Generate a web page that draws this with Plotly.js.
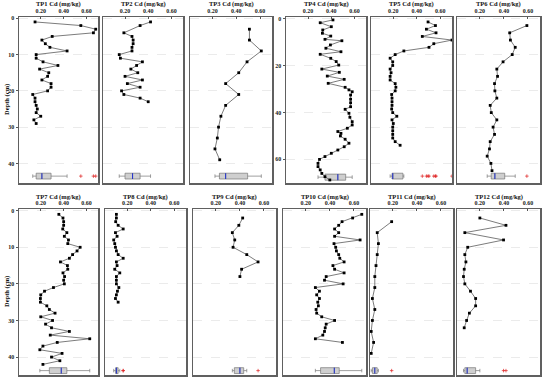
<!DOCTYPE html>
<html><head><meta charset="utf-8">
<script src="https://cdn.plot.ly/plotly-3.0.1.min.js"></script>
<style>html,body{margin:0;padding:0;background:#fff}#chart{width:550px;height:380px}</style>
</head><body><div id="chart"></div>
<script>
// ---------- data (depth in cm, Cd in mg/kg) ----------
const panelNames = ['TP1','TP2','TP3','TP4','TP5','TP6','TP7','TP8','TP9','TP10','TP11','TP12'];

const tp1Depth = [1,2,3,4,5,6,7,8,9,10,11,12,13,14,15,16,17,18,19,20,21,22,23,24,25,26,27,28,29];
const tp1Cd = [0.15,0.55,0.68,0.66,0.30,0.21,0.24,0.28,0.43,0.16,0.16,0.22,0.35,0.19,0.27,0.26,0.21,0.29,0.29,0.26,0.13,0.15,0.15,0.16,0.17,0.16,0.20,0.14,0.16];

const tp2Depth = [1,2,4,5,6,7,8,9,10,11,12,13,14,15,16,17,18,19,20,21,22,23];
const tp2Cd = [0.42,0.33,0.19,0.26,0.27,0.27,0.26,0.26,0.15,0.16,0.35,0.30,0.25,0.31,0.20,0.35,0.22,0.33,0.17,0.19,0.33,0.40];

const tp3Depth = [3,6,9,12,15,18,21,24,27,30,33,36,39];
const tp3Cd = [0.51,0.51,0.61,0.49,0.42,0.31,0.42,0.31,0.27,0.25,0.24,0.22,0.26];

const tp4Depth = [0.4,1.6,3.3,4.7,6.1,7.3,8.7,9.3,11.1,12.5,14.0,15.1,16.8,18.2,19.7,21.4,22.8,24.4,25.8,27.5,29.2,30.3,31.1,32.5,34.3,35.8,37.5,38.6,40.3,42.0,43.9,45.3,46.7,48.1,48.9,50.0,51.4,53.1,54.6,56.0,57.4,58.8,60.0,61.7,63.1,64.5,66.0,67.4,68.8];
const tp4Cd = [0.415,0.305,0.401,0.327,0.324,0.396,0.346,0.492,0.393,0.354,0.484,0.305,0.396,0.443,0.465,0.319,0.470,0.366,0.512,0.374,0.520,0.553,0.581,0.567,0.567,0.567,0.567,0.520,0.553,0.561,0.581,0.581,0.539,0.457,0.484,0.479,0.520,0.553,0.512,0.457,0.401,0.346,0.299,0.286,0.286,0.305,0.319,0.346,0.388];

const tp5Depth = [1,2,3,4,5,6,7,8,9,10,11,12,13,14,15,16,17,18,19,20,21,22,23,24,25,26,27,28,29,30,31,32,33,34,35];
const tp5Cd = [0.496,0.559,0.482,0.564,0.447,0.70,0.545,0.504,0.290,0.216,0.173,0.195,0.195,0.173,0.181,0.173,0.173,0.216,0.222,0.216,0.186,0.189,0.189,0.189,0.186,0.195,0.230,0.189,0.200,0.195,0.195,0.195,0.195,0.216,0.258];

const tp6Depth = [2,4,6,8,10,12,14,16,18,20,22,24,26,28,30,32,34,36,38,40,42];
const tp6Cd = [0.591,0.448,0.454,0.494,0.469,0.393,0.341,0.347,0.322,0.325,0.341,0.286,0.295,0.341,0.310,0.322,0.286,0.280,0.261,0.292,0.301];

const tp7Depth = [1,2,3,4,5,6,7,8,9,10,11,12,13,14,15,16,17,18,19,20,21,22,23,24,25,26,27,28,29,30,31,32,33,34,35,36,37,38,39,40,41,42];
const tp7Cd = [0.358,0.394,0.400,0.400,0.392,0.428,0.406,0.442,0.436,0.544,0.517,0.478,0.450,0.372,0.433,0.436,0.394,0.408,0.400,0.406,0.311,0.233,0.200,0.197,0.197,0.253,0.275,0.325,0.200,0.303,0.242,0.294,0.450,0.283,0.628,0.344,0.219,0.192,0.386,0.294,0.367,0.219];

const tp8Depth = [1,2,3,4,5,6,7,8,9,10,11,12,13,14,15,16,17,18,19,20,21,22,23,24,25];
const tp8Cd = [0.107,0.107,0.101,0.122,0.165,0.099,0.113,0.084,0.093,0.099,0.107,0.122,0.165,0.107,0.113,0.093,0.136,0.107,0.107,0.107,0.128,0.116,0.107,0.099,0.122];

const tp9Depth = [2,4,6,8,10,12,14,16,18];
const tp9Cd = [0.423,0.391,0.337,0.357,0.343,0.457,0.551,0.414,0.400];

const tp10Depth = [1,2,3,4,5,6,7,8,9,10,11,12,13,14,15,16,17,18,19,20,21,22,23,24,25,26,27,28,29,30,31,32,33,34,35,36];
const tp10Cd = [0.665,0.589,0.501,0.473,0.439,0.473,0.439,0.651,0.434,0.448,0.454,0.473,0.482,0.518,0.425,0.439,0.518,0.369,0.355,0.510,0.279,0.313,0.290,0.313,0.299,0.304,0.285,0.290,0.332,0.439,0.369,0.361,0.355,0.341,0.279,0.504];

const tp11Depth = [3,6,9,12,15,18,21,24,27,30,33,36,39];
const tp11Cd = [0.19,0.07,0.08,0.07,0.06,0.05,0.05,0.03,0.05,0.03,0.02,0.04,0.02];

const tp12Depth = [2,4,6,8,10,12,14,16,18,20,22,24,26,28,30,32];
const tp12Cd = [0.200,0.417,0.075,0.397,0.099,0.075,0.084,0.070,0.064,0.075,0.122,0.165,0.165,0.113,0.090,0.070];

const depthSets = [tp1Depth,tp2Depth,tp3Depth,tp4Depth,tp5Depth,tp6Depth,tp7Depth,tp8Depth,tp9Depth,tp10Depth,tp11Depth,tp12Depth];
const cdSets = [tp1Cd,tp2Cd,tp3Cd,tp4Cd,tp5Cd,tp6Cd,tp7Cd,tp8Cd,tp9Cd,tp10Cd,tp11Cd,tp12Cd];

const xTickVals = [0.2,0.4,0.6];
const xTickText = ['0.20','0.40','0.60'];
const depthTicksShallow = [0,10,20,30,40];
const depthTicksDeep = [0,20,40,60];

// ---------- geometry ----------
const W = 550, H = 380;
const xPix = [[19,98],[103,183],[190,272],[286,366],[371,452],[457,540],
              [19,98],[105,186],[193,276],[283,366],[370,453],[457,540]];
const rowPix = [[17,183],[209,375]];
const xRange = [0.01,0.70];
// depth scale groups: 0 = shallow top row, 1 = TP4 (deep), 2 = bottom row
const groupOf = i => (i === 3 ? 1 : (i < 6 ? 0 : 2));
const yRanges = [[45.4,-0.36],[70.1,-0.85],[44.9,-0.46]];
const boxPos = [43.5,67.6,43.7];
const boxW = [1.6,2.6,1.6];

const serif = 'Liberation Serif, Times New Roman, serif';
const traces = [];
const layout = {
  width: W, height: H,
  margin: {l:0,r:0,t:0,b:0},
  paper_bgcolor: '#fff', plot_bgcolor: '#fff',
  showlegend: false,
  annotations: [], shapes: []
};

function median(a){const s=[...a].sort((p,q)=>p-q);const n=s.length;return n%2?s[(n-1)/2]:(s[n/2-1]+s[n/2])/2;}

for (let i=0;i<12;i++){
  const k = i+1;
  const xa = 'x'+(k===1?'':k), ya = 'y'+(k===1?'':k);
  const g = groupOf(i);
  const row = i<6?0:1;
  const [px0,px1] = xPix[i];
  const [py0,py1] = rowPix[row];
  const xd = [px0/W, px1/W];
  const yd = [1-py1/H, 1-py0/H];
  const showY = (i===0||i===3||i===6);
  layout['xaxis'+(k===1?'':k)] = {
    domain: xd, anchor: ya, side: 'top', range: xRange,
    tickvals: xTickVals, ticktext: xTickText,
    ticks: 'inside', ticklen: 2, tickcolor: '#555',
    tickfont: {family: serif, size: 6, color: '#222', weight: 'bold'},
    showline: true, mirror: true, linecolor: '#606060', linewidth: 1.5,
    showgrid: false, zeroline: false, fixedrange: true
  };
  const yt = g===1 ? depthTicksDeep : depthTicksShallow;
  layout['yaxis'+(k===1?'':k)] = {
    domain: yd, anchor: xa, range: yRanges[g],
    tickvals: yt, ticktext: yt.map(String),
    showticklabels: showY, ticks: showY?'outside':'', ticklen: 2, tickcolor: '#555',
    tickfont: {family: serif, size: 6, color: '#222', weight: 'bold'},
    showline: true, mirror: true, linecolor: '#606060', linewidth: 1.5,
    showgrid: true, gridcolor: '#e2e2e2', griddash: 'dash', gridwidth: 0.7,
    zeroline: false, fixedrange: true
  };
  layout.annotations.push({
    text: panelNames[i]+' Cd (mg/kg)', xref: 'paper', yref: 'paper',
    x: (xd[0]+xd[1])/2, y: 1-(py0-12.5)/H, xanchor: 'center', yanchor: 'middle',
    showarrow: false, font: {family: serif, size: 6.5, color: '#111', weight: 'bold'}
  });
  traces.push({
    type: 'scatter', mode: 'lines+markers', x: cdSets[i], y: depthSets[i],
    xaxis: xa, yaxis: ya, cliponaxis: false,
    line: {color: '#444', width: 0.7},
    marker: {symbol: 'square', size: 2.8, color: '#000'},
    hoverinfo: 'skip'
  });
  traces.push({
    type: 'box', orientation: 'h', x: cdSets[i], y0: boxPos[g], width: boxW[g],
    xaxis: xa, yaxis: ya, boxpoints: 'outliers', whiskerwidth: 0.6,
    fillcolor: '#cfcfcf', line: {color: '#777', width: 0.7},
    marker: {symbol: 'cross-thin', size: 2.5, color: '#e02020', line: {color: '#e02020', width: 0.7}},
    hoverinfo: 'skip'
  });
  const m = median(cdSets[i]);
  traces.push({
    type: 'scatter', mode: 'lines', x: [m,m], y: [boxPos[g]-boxW[g]/2, boxPos[g]+boxW[g]/2],
    xaxis: xa, yaxis: ya, line: {color: '#2030d0', width: 1}, hoverinfo: 'skip'
  });
}
[0,1].forEach(j=>{
  const [py0,py1] = rowPix[j];
  layout.annotations.push({
    text: 'Depth (cm)', xref: 'paper', yref: 'paper', x: 7/W, y: 1-((py0+py1)/2)/H,
    xanchor: 'center', yanchor: 'middle', textangle: -90, showarrow: false,
    font: {family: serif, size: 6.5, color: '#111', weight: 'bold'}
  });
});

Plotly.newPlot('chart', traces, layout, {displayModeBar: false, staticPlot: true});
</script></body></html>
